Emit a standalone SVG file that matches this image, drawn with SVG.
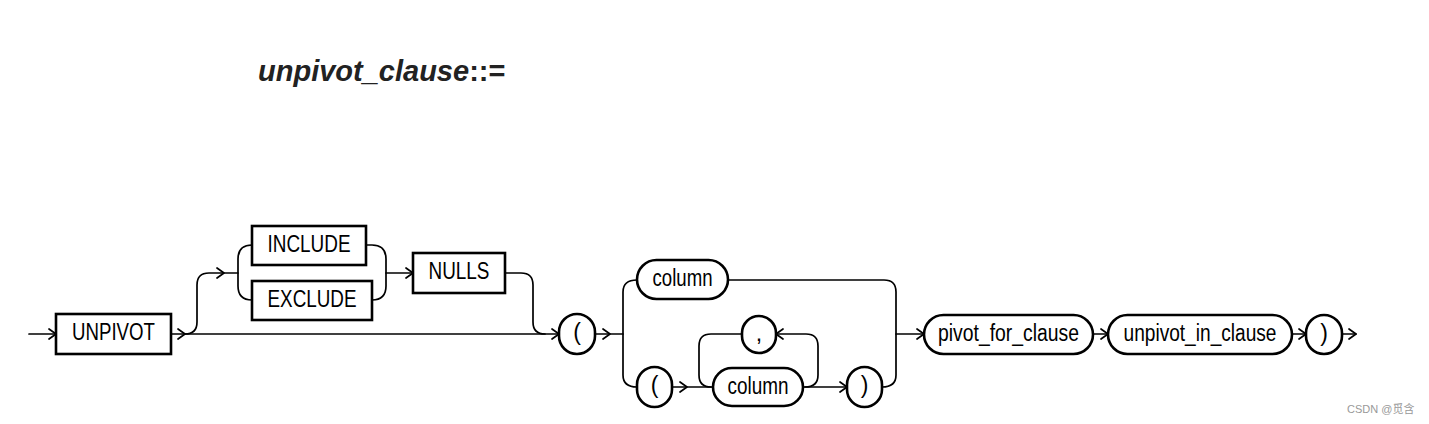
<svg xmlns="http://www.w3.org/2000/svg" xmlns:xlink="http://www.w3.org/1999/xlink" width="1429" height="424" viewBox="0 0 1429 424">
<style>
.ln{fill:none;stroke:#000;stroke-width:1.7;stroke-linecap:round;stroke-linejoin:round}
.ah{fill:none;stroke:#000;stroke-width:1.7;stroke-linecap:round;stroke-linejoin:round}
.kw{fill:#fff;stroke:#000;stroke-width:2.6}
.t{font-family:"Liberation Sans Narrow","Liberation Sans",Arial,sans-serif;font-size:23px;fill:#000;text-anchor:middle}
.title{font-family:"Liberation Sans",Arial,sans-serif;font-size:29px;font-weight:bold;font-style:italic;fill:#222}
.wm{font-family:"Liberation Sans","Noto Sans CJK SC",sans-serif;font-size:11px;fill:#999}
</style>
<defs>
<path id="ah" class="ah" d="M-7,-5 L0,0 L-7,5"/>
</defs>
<rect width="1429" height="424" fill="#fff"/>
<text class="title" x="258" y="81">unpivot_clause<tspan font-style="normal">::=</tspan></text>

<g id="connectors">
<path class="ln" d="M29,334 L56,334"/>
<path class="ln" d="M171,334 L559,334"/>
<path class="ln" d="M185,334 Q197,334 197,322 L197,285 Q197,273 209,273 L238,273"/>
<path class="ln" d="M252,245 Q238,245 238,259 L238,286 Q238,300 252,300"/>
<path class="ln" d="M366,245 L372,245 Q386,245 386,259 L386,286 Q386,300 372,300"/>
<path class="ln" d="M386,273 L413,273"/>
<path class="ln" d="M505,273 L521,273 Q533,273 533,285 L533,322 Q533,334 545,334"/>
<path class="ln" d="M595,334 L623,334"/>
<path class="ln" d="M637,280 Q623,280 623,292 L623,375 Q623,387 637,387"/>
<path class="ln" d="M728,280 L884,280 Q896,280 896,292 L896,375 Q896,387 882,387"/>
<path class="ln" d="M896,334 L924,334"/>
<path class="ln" d="M672,387 L713,387"/>
<path class="ln" d="M803,387 L847,387"/>
<path class="ln" d="M805,387 Q818,387 818,375 L818,346 Q818,334 806,334 L776,334"/>
<path class="ln" d="M742,334 L711,334 Q699,334 699,346 L699,375 Q699,387 711,387"/>
<path class="ln" d="M1093,334 L1108,334"/>
<path class="ln" d="M1292,334 L1306,334"/>
<path class="ln" d="M1342,334 L1356,334"/>
<use xlink:href="#ah" x="56" y="334"/>
<use xlink:href="#ah" x="185" y="334"/>
<use xlink:href="#ah" x="224" y="273"/>
<use xlink:href="#ah" x="413" y="273"/>
<use xlink:href="#ah" x="559" y="334"/>
<use xlink:href="#ah" x="610" y="334"/>
<use xlink:href="#ah" x="924" y="334"/>
<use xlink:href="#ah" x="687" y="387"/>
<use xlink:href="#ah" x="847" y="387"/>
<use xlink:href="#ah" transform="translate(776,334) rotate(180)"/>
<use xlink:href="#ah" x="1108" y="334"/>
<use xlink:href="#ah" x="1306" y="334"/>
<use xlink:href="#ah" x="1356" y="334"/>
</g>

<g id="n-unpivot"><rect class="kw" x="56" y="314" width="115" height="40"/><text class="t" x="113.5" y="340" textLength="83" lengthAdjust="spacingAndGlyphs">UNPIVOT</text></g>
<g id="n-include"><rect class="kw" x="252" y="226" width="114" height="39"/><text class="t" x="309" y="252" textLength="83" lengthAdjust="spacingAndGlyphs">INCLUDE</text></g>
<g id="n-exclude"><rect class="kw" x="252" y="281" width="120" height="39"/><text class="t" x="312" y="307" textLength="89" lengthAdjust="spacingAndGlyphs">EXCLUDE</text></g>
<g id="n-nulls"><rect class="kw" x="413" y="253" width="92" height="40"/><text class="t" x="459" y="279" textLength="61" lengthAdjust="spacingAndGlyphs">NULLS</text></g>
<g id="n-lparen1"><rect class="kw" x="559" y="314" width="36" height="40" rx="18" ry="18"/><text class="t" x="577" y="340">(</text></g>
<g id="n-column1"><rect class="kw" x="637" y="260" width="91" height="39" rx="19.5" ry="19.5"/><text class="t" x="682.5" y="286" textLength="60" lengthAdjust="spacingAndGlyphs">column</text></g>
<g id="n-lparen2"><rect class="kw" x="637" y="367" width="35" height="40" rx="17.5" ry="17.5"/><text class="t" x="654.5" y="393">(</text></g>
<g id="n-comma"><rect class="kw" x="742" y="316" width="34" height="37" rx="17" ry="17"/><text class="t" x="759" y="341">,</text></g>
<g id="n-column2"><rect class="kw" x="713" y="368" width="90" height="38" rx="19" ry="19"/><text class="t" x="758" y="394" textLength="61" lengthAdjust="spacingAndGlyphs">column</text></g>
<g id="n-rparen1"><rect class="kw" x="847" y="367" width="35" height="40" rx="17.5" ry="17.5"/><text class="t" x="864.5" y="393">)</text></g>
<g id="n-pivot-for"><rect class="kw" x="924" y="315" width="169" height="39" rx="19.5" ry="19.5"/><text class="t" x="1008.5" y="341" textLength="141" lengthAdjust="spacingAndGlyphs">pivot_for_clause</text></g>
<g id="n-unpivot-in"><rect class="kw" x="1108" y="315" width="184" height="39" rx="19.5" ry="19.5"/><text class="t" x="1200" y="341" textLength="153" lengthAdjust="spacingAndGlyphs">unpivot_in_clause</text></g>
<g id="n-rparen2"><rect class="kw" x="1306" y="315" width="36" height="39" rx="18" ry="18"/><text class="t" x="1324" y="341">)</text></g>

<text class="wm" x="1347" y="413">CSDN @觅含</text>
</svg>
